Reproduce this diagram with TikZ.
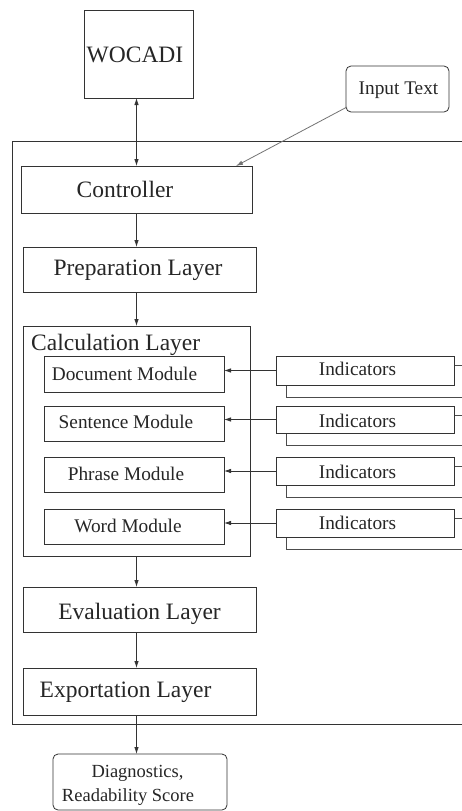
\documentclass[tikz,border=0pt]{standalone}
\usepackage{fontspec}
\setmainfont{Liberation Serif}
\usetikzlibrary{arrows.meta,calc}
\begin{document}
\begin{tikzpicture}[x=1pt,y=-1pt,
  ln/.style={draw=black!80, line width=0.8pt},
  bx/.style={ln, fill=white, inner sep=0pt, outer sep=0pt},
  rbx/.style={bx, rounded corners=5pt},
  bigt/.style={font=\fontsize{23.5}{26}\selectfont, anchor=base, inner sep=0pt, text=black!85},
  smallt/.style={font=\fontsize{19.3}{22}\selectfont, anchor=base, inner sep=0pt, text=black!85},
  diagt/.style={font=\fontsize{18.5}{21}\selectfont, anchor=base, inner sep=0pt, text=black!85},
  arr/.style={ln, -{Latex[length=7pt,width=4.5pt]}},
]
\useasboundingbox (0,0) rectangle (462,811);
\clip (0,0) rectangle (462,811);
\fill[white] (0,0) rectangle (462,811);

% outer frame (open to the right)
\draw[ln] (475,141) -- (12,141) -- (12,724) -- (475,724);

% top boxes
\node[bx, minimum width=109pt, minimum height=88pt] (wocadi) at (138.5,54) {};
\node[bigt] (twocadi) at (135,62) {WOCADI};
\node[rbx, minimum width=103pt, minimum height=46pt] (input) at (397.5,89) {};
\node[smallt] (tinput) at (398.5,94) {Input Text};

% main column
\node[bx, minimum width=231pt, minimum height=47pt] (ctrl) at (136.5,189.5) {};
\node[bigt] (tctrl) at (125,197) {Controller};
\node[bx, minimum width=233pt, minimum height=45pt] (prep) at (139.5,269.5) {};
\node[bigt] (tprep) at (138,275) {Preparation Layer};
\node[bx, minimum width=227pt, minimum height=230pt] (calc) at (136.5,441) {};
\node[bigt, anchor=base west] (tcalc) at (31,350) {Calculation Layer};

\node[bx, minimum width=180pt, minimum height=36pt] (mdoc) at (134,374) {};
\node[smallt] (tmdoc) at (124.5,380) {Document Module};
\node[bx, minimum width=180pt, minimum height=35pt] (msen) at (134,423.5) {};
\node[smallt] (tmsen) at (126,428) {Sentence Module};
\node[bx, minimum width=180pt, minimum height=35pt] (mphr) at (134,474.5) {};
\node[smallt] (tmphr) at (126,480) {Phrase Module};
\node[bx, minimum width=180pt, minimum height=35pt] (mwrd) at (134,526.5) {};
\node[smallt] (tmwrd) at (128,532) {Word Module};

\node[bx, minimum width=233pt, minimum height=45pt] (eval) at (139.5,609.5) {};
\node[bigt] (teval) at (139.5,619) {Evaluation Layer};
\node[bx, minimum width=233pt, minimum height=47pt] (expo) at (139.5,691.5) {};
\node[bigt] (texpo) at (125.5,697) {Exportation Layer};

\node[rbx, minimum width=174pt, minimum height=56pt] (diag) at (140,782) {};
\node[diagt] (tdiag1) at (137.5,777) {Diagnostics,};
\node[diagt] (tdiag2) at (128,801) {Readability Score};

% indicator stacks
\foreach \i/\t/\b/\m/\base in {1/356/385/mdoc/375, 2/406/433/msen/427, 3/457/485/mphr/478, 4/509/537/mwrd/529}{
  \node[bx, draw=black!70, anchor=north west, minimum width=190pt, minimum height={(\b-\t+3)*1pt}] (back\i) at (286,\t+9) {};
  \node[bx, anchor=north west, minimum width=178pt, minimum height={(\b-\t)*1pt}] (ind\i) at (276,\t) {};
  \node[smallt] (tind\i) at (357.5,\base) {Indicators};
  \draw[arr] (ind\i.west) -- (ind\i.west -| \m.east);
}

% connectors
\draw[ln, {Latex[length=7pt,width=4.5pt]}-{Latex[length=7pt,width=4.5pt]}] (wocadi.south -| ctrl.north) -- (ctrl.north);
\draw[ln, draw=black!55, -{Latex[length=7pt,width=4.5pt]}] ($(input.south west)+(1,-5)$) -- ($(ctrl.north west)+(215,0)$);
\draw[arr] (ctrl.south) -- (prep.north -| ctrl.south);
\draw[arr] (prep.south -| ctrl.south) -- (calc.north -| ctrl.south);
\draw[arr] (calc.south -| ctrl.south) -- (eval.north -| ctrl.south);
\draw[arr] (eval.south -| ctrl.south) -- (expo.north -| ctrl.south);
\draw[arr] (expo.south -| ctrl.south) -- (diag.north -| ctrl.south);
\end{tikzpicture}
\end{document}
